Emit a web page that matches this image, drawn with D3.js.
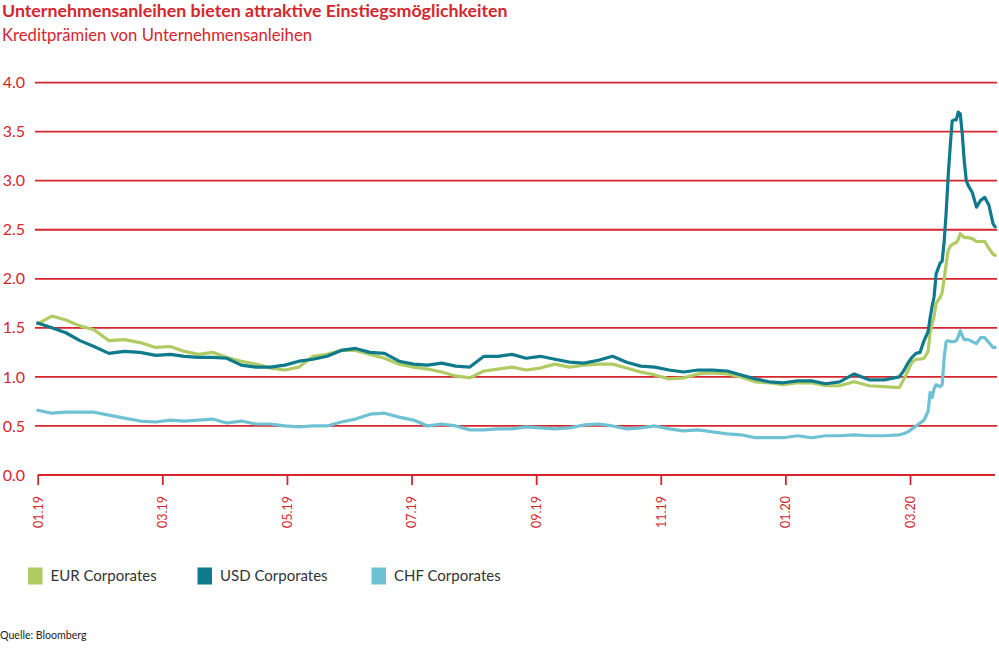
<!DOCTYPE html>
<html><head><meta charset="utf-8">
<script src="https://cdn.jsdelivr.net/npm/d3@7"></script>
<style>
html,body{margin:0;padding:0;background:#fff;}
svg{display:block;}
text{font-family:Lato,"Open Sans",sans-serif;}
</style></head>
<body>
<svg id="chart" width="999" height="650"></svg>
<script>
const title = "Unternehmensanleihen bieten attraktive Einstiegsmöglichkeiten";
const subtitle = "Kreditprämien von Unternehmensanleihen";
const source = "Quelle: Bloomberg";

const dates = [
"2019-01-01","2019-01-08","2019-01-15","2019-01-22","2019-01-29",
"2019-02-05","2019-02-12","2019-02-19","2019-02-26",
"2019-03-05","2019-03-12","2019-03-19","2019-03-26",
"2019-04-02","2019-04-09","2019-04-16","2019-04-23","2019-04-30",
"2019-05-07","2019-05-14","2019-05-21","2019-05-28",
"2019-06-04","2019-06-11","2019-06-18","2019-06-25",
"2019-07-02","2019-07-09","2019-07-16","2019-07-23","2019-07-30",
"2019-08-06","2019-08-13","2019-08-20","2019-08-27",
"2019-09-03","2019-09-10","2019-09-17","2019-09-24",
"2019-10-01","2019-10-08","2019-10-15","2019-10-22","2019-10-29",
"2019-11-05","2019-11-12","2019-11-19","2019-11-26",
"2019-12-03","2019-12-10","2019-12-17","2019-12-24","2019-12-31",
"2020-01-07","2020-01-14","2020-01-21","2020-01-28",
"2020-02-04","2020-02-11","2020-02-18","2020-02-25",
"2020-02-27","2020-02-29","2020-03-02","2020-03-04","2020-03-06","2020-03-08","2020-03-10",
"2020-03-11","2020-03-12","2020-03-13","2020-03-14","2020-03-16","2020-03-17","2020-03-18",
"2020-03-19","2020-03-20","2020-03-21","2020-03-22","2020-03-23","2020-03-24","2020-03-25",
"2020-03-26","2020-03-27","2020-03-28","2020-03-29","2020-03-30","2020-04-01","2020-04-03",
"2020-04-05","2020-04-07","2020-04-09","2020-04-11","2020-04-12"];

const eurCorporates = [
1.54,1.62,1.58,1.52,1.48,
1.37,1.38,1.35,1.30,
1.31,1.26,1.23,1.25,
1.20,1.16,1.13,1.09,1.07,
1.10,1.21,1.23,1.27,
1.27,1.23,1.19,1.13,
1.10,1.08,1.05,1.01,0.99,
1.06,1.08,1.10,1.07,
1.09,1.13,1.10,1.12,
1.13,1.13,1.09,1.05,1.02,
0.98,0.99,1.03,1.04,
1.03,1.00,0.95,0.94,0.92,
0.94,0.94,0.91,0.91,
0.95,0.91,0.90,0.89,
0.97,1.06,1.15,1.18,1.18,1.19,1.26,
1.45,1.54,1.62,1.75,1.81,1.86,2.00,
2.15,2.29,2.33,2.35,2.36,2.37,2.40,
2.46,2.44,2.42,2.42,2.42,2.41,2.38,
2.38,2.38,2.31,2.25,2.24];

const usdCorporates = [
1.55,1.50,1.45,1.37,1.31,
1.24,1.26,1.25,1.22,
1.23,1.21,1.20,1.20,
1.19,1.12,1.10,1.10,1.12,
1.16,1.18,1.21,1.27,
1.29,1.25,1.24,1.16,
1.13,1.12,1.14,1.11,1.10,
1.21,1.21,1.23,1.19,
1.21,1.18,1.15,1.14,
1.17,1.21,1.15,1.11,1.10,
1.07,1.05,1.07,1.07,
1.06,1.02,0.98,0.95,0.94,
0.96,0.96,0.93,0.95,
1.03,0.97,0.97,1.00,
1.06,1.14,1.20,1.24,1.25,1.37,1.46,
1.60,1.72,1.82,2.05,2.16,2.18,2.38,
2.68,3.05,3.35,3.61,3.62,3.62,3.70,
3.68,3.48,3.20,3.00,2.95,2.88,2.73,
2.80,2.83,2.75,2.56,2.53];

const chfCorporates = [
0.66,0.63,0.64,0.64,0.64,
0.61,0.58,0.55,0.54,
0.56,0.55,0.56,0.57,
0.53,0.55,0.52,0.52,0.50,
0.49,0.50,0.50,0.54,
0.57,0.62,0.63,0.59,
0.56,0.50,0.52,0.50,0.46,
0.46,0.47,0.47,0.49,
0.48,0.47,0.48,0.51,
0.52,0.50,0.47,0.48,0.50,
0.47,0.45,0.46,0.44,
0.42,0.41,0.38,0.38,0.38,
0.40,0.38,0.40,0.40,
0.41,0.40,0.40,0.41,
0.42,0.44,0.47,0.50,0.53,0.56,0.65,
0.84,0.79,0.88,0.92,0.90,0.92,1.20,
1.36,1.37,1.36,1.36,1.36,1.37,1.41,
1.47,1.42,1.38,1.38,1.38,1.36,1.34,
1.40,1.40,1.35,1.30,1.30];

const seriesNames = ["EUR Corporates","USD Corporates","CHF Corporates"];
const seriesColors = ["#afcb62","#0f7a8c","#6fc2d3"];
const xTickMonths = [0,2,4,6,8,10,12,14];
const xTickLabels = ["01.19","03.19","05.19","07.19","09.19","11.19","01.20","03.20"];
const yTicks = [0,0.5,1,1.5,2,2.5,3,3.5,4];

const RED = "#d5262e";
const svg = d3.select("#chart");

// month index (fractional) since January 2019
function monthIndex(s){
  const [y,m,d] = s.split("-").map(Number);
  const dim = new Date(y, m, 0).getDate();
  return (y-2019)*12 + (m-1) + (d-1)/dim;
}

const x = d3.scaleLinear().domain([0,14]).range([37.7,910]);
const y = d3.scaleLinear().domain([0,4]).range([475,82.6]);

// title
svg.append("text").attr("x",2).attr("y",17).attr("fill",RED)
  .attr("font-size",17.8).attr("font-weight",700).text(title);
svg.append("text").attr("x",2).attr("y",40.5).attr("fill",RED)
  .attr("font-size",16.7).text(subtitle);

// gridlines
const xRight = 997;
svg.append("g").selectAll("line").data(yTicks.filter(d=>d>0)).join("line")
  .attr("x1",35).attr("x2",xRight)
  .attr("y1",d=>y(d)).attr("y2",d=>y(d))
  .attr("stroke",RED).attr("stroke-width",1.8);

// y labels
svg.append("g").selectAll("text").data(yTicks).join("text")
  .attr("x",25).attr("y",d=>y(d)).attr("dy","0.35em")
  .attr("text-anchor","end").attr("fill",RED).attr("font-size",16)
  .text(d=>d3.format(".1f")(d));

// x axis
const xAxis = d3.axisBottom(x).tickValues(xTickMonths)
  .tickFormat((d,i)=>xTickLabels[i]).tickSize(10).tickSizeOuter(0);
const gx = svg.append("g").attr("transform",`translate(0,${y(0)})`).call(xAxis);
gx.select(".domain").remove();
gx.append("line").attr("x1",x(0)).attr("x2",995).attr("y1",0).attr("y2",0)
  .attr("stroke",RED).attr("stroke-width",1.8);
gx.selectAll(".tick line").attr("stroke",RED).attr("stroke-width",1.8);
gx.selectAll(".tick text").attr("fill",RED).attr("font-size",12.5)
  .attr("font-family","Lato, sans-serif")
  .attr("transform","rotate(-90)").attr("text-anchor","end")
  .attr("x",-21).attr("y",0).attr("dy","0.35em");

// lines
const allSeries = [eurCorporates, chfCorporates, usdCorporates];
const colorsOrder = [seriesColors[0], seriesColors[2], seriesColors[1]];
const line = d3.line().x((d,i)=>x(monthIndex(dates[i]))).y(d=>y(d));
svg.append("g").selectAll("path").data(allSeries).join("path")
  .attr("d",d=>line(d)).attr("fill","none")
  .attr("stroke",(d,i)=>colorsOrder[i]).attr("stroke-width",3.2)
  .attr("stroke-linejoin","round").attr("stroke-linecap","round");

// legend
const legendX = [28, 197.5, 371.5];
const lg = svg.append("g").selectAll("g").data(seriesNames).join("g")
  .attr("transform",(d,i)=>`translate(${legendX[i]},567.5)`);
lg.append("rect").attr("width",14.5).attr("height",17).attr("fill",(d,i)=>seriesColors[i]);
lg.append("text").attr("x",22.5).attr("y",8.5).attr("dy","0.35em")
  .attr("font-size",15).attr("fill","#333").text(d=>d);

// source
svg.append("text").attr("x",0).attr("y",639).attr("font-size",10.6)
  .attr("fill","#222").text(source);
</script>
</body></html>
